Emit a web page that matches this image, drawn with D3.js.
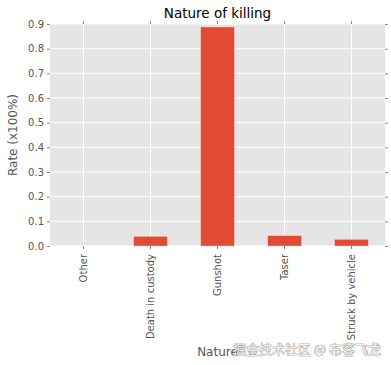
<!DOCTYPE html>
<html>
<head>
<meta charset="utf-8">
<script src="https://cdn.jsdelivr.net/npm/d3@7"></script>
<style>
  body { margin: 0; background: #fff; }
  text { font-family: "DejaVu Sans", sans-serif; }
</style>
</head>
<body>
<svg width="391" height="365"></svg>
<script>
var categories = ['Other', 'Death in custody', 'Gunshot', 'Taser', 'Struck by vehicle']
var rates = [0.0, 0.039, 0.888, 0.042, 0.027]
var yTicks = [0.0, 0.1, 0.2, 0.3, 0.4, 0.5, 0.6, 0.7, 0.8, 0.9]

var svg = d3.select('svg')
var plotLeft = 50, plotRight = 385, plotTop = 24, plotBottom = 246

var x = d3.scaleBand()
    .domain(categories)
    .range([plotLeft, plotRight])
    .paddingInner(0.5)
    .paddingOuter(0.25)

var y = d3.scaleLinear()
    .domain([0, 0.9])
    .range([plotBottom, plotTop])

// panel background
svg.append('rect')
    .attr('x', plotLeft)
    .attr('y', plotTop)
    .attr('width', plotRight - plotLeft)
    .attr('height', plotBottom - plotTop)
    .attr('fill', '#e5e5e5')

// grid
svg.append('g').selectAll('line')
    .data(yTicks)
    .enter().append('line')
    .attr('x1', plotLeft).attr('x2', plotRight)
    .attr('y1', function(d) { return y(d) })
    .attr('y2', function(d) { return y(d) })
    .attr('stroke', '#fff')
    .attr('stroke-width', 1)

svg.append('g').selectAll('line')
    .data(categories)
    .enter().append('line')
    .attr('y1', plotTop).attr('y2', plotBottom)
    .attr('x1', function(d) { return x(d) + x.bandwidth() / 2 })
    .attr('x2', function(d) { return x(d) + x.bandwidth() / 2 })
    .attr('stroke', '#fff')
    .attr('stroke-width', 1)

// bars (skip the empty one so no stray outline shows)
svg.append('g').selectAll('rect')
    .data(categories.filter(function(d, i) { return rates[i] > 0 }))
    .enter().append('rect')
    .attr('x', function(d) { return x(d) })
    .attr('width', x.bandwidth())
    .attr('y', function(d) { return y(rates[categories.indexOf(d)]) })
    .attr('height', function(d) { return plotBottom - y(rates[categories.indexOf(d)]) })
    .attr('fill', '#e24a33')
    .attr('stroke', '#f3c9bf')
    .attr('stroke-width', 0.5)

// axes
var yAxis = d3.axisLeft(y).tickValues(yTicks).tickFormat(d3.format('.1f')).tickSize(3).tickPadding(3)
var yAxisR = d3.axisRight(y).tickValues(yTicks).tickFormat('').tickSize(3)
var xAxis = d3.axisBottom(x).tickSize(3).tickPadding(4)
var xAxisT = d3.axisTop(x).tickFormat('').tickSize(3)

function styleAxis(g) {
  g.select('.domain').remove()
  g.selectAll('line').attr('stroke', '#888')
  g.selectAll('text').attr('fill', '#555').style('font-size', '10px')
}

svg.append('g').attr('transform', 'translate(' + plotLeft + ',0)').call(yAxis).call(styleAxis)
svg.append('g').attr('transform', 'translate(' + plotRight + ',0)').call(yAxisR).call(styleAxis)
svg.append('g').attr('transform', 'translate(0,' + plotTop + ')').call(xAxisT).call(styleAxis)

var gx = svg.append('g').attr('transform', 'translate(0,' + plotBottom + ')').call(xAxis).call(styleAxis)
gx.selectAll('text')
    .attr('transform', 'rotate(-90)')
    .attr('x', -8)
    .attr('y', 0)
    .attr('dy', '0.35em')
    .style('text-anchor', 'end')

// title and labels
svg.append('text')
    .attr('x', (plotLeft + plotRight) / 2)
    .attr('y', 18)
    .attr('text-anchor', 'middle')
    .style('font-size', '13.5px')
    .attr('fill', '#000')
    .text('Nature of killing')

svg.append('text')
    .attr('transform', 'translate(17,' + (plotTop + plotBottom) / 2 + ') rotate(-90)')
    .attr('text-anchor', 'middle')
    .style('font-size', '12px')
    .attr('fill', '#555')
    .text('Rate (x100%)')

svg.append('text')
    .attr('x', (plotLeft + plotRight) / 2)
    .attr('y', 356)
    .attr('text-anchor', 'middle')
    .style('font-size', '12px')
    .attr('fill', '#555')
    .text('Nature')

// watermark
svg.append('text')
    .attr('x', 381)
    .attr('y', 354)
    .attr('text-anchor', 'end')
    .style('font-family', '"Noto Sans CJK SC", sans-serif')
    .style('font-size', '13px')
    .attr('fill', '#fff')
    .attr('fill-opacity', 0.85)
    .attr('stroke', '#777')
    .attr('stroke-width', 0.6)
    .attr('paint-order', 'stroke')
    .text('掘金技术社区 @ 布客飞龙')
</script>
</body>
</html>
